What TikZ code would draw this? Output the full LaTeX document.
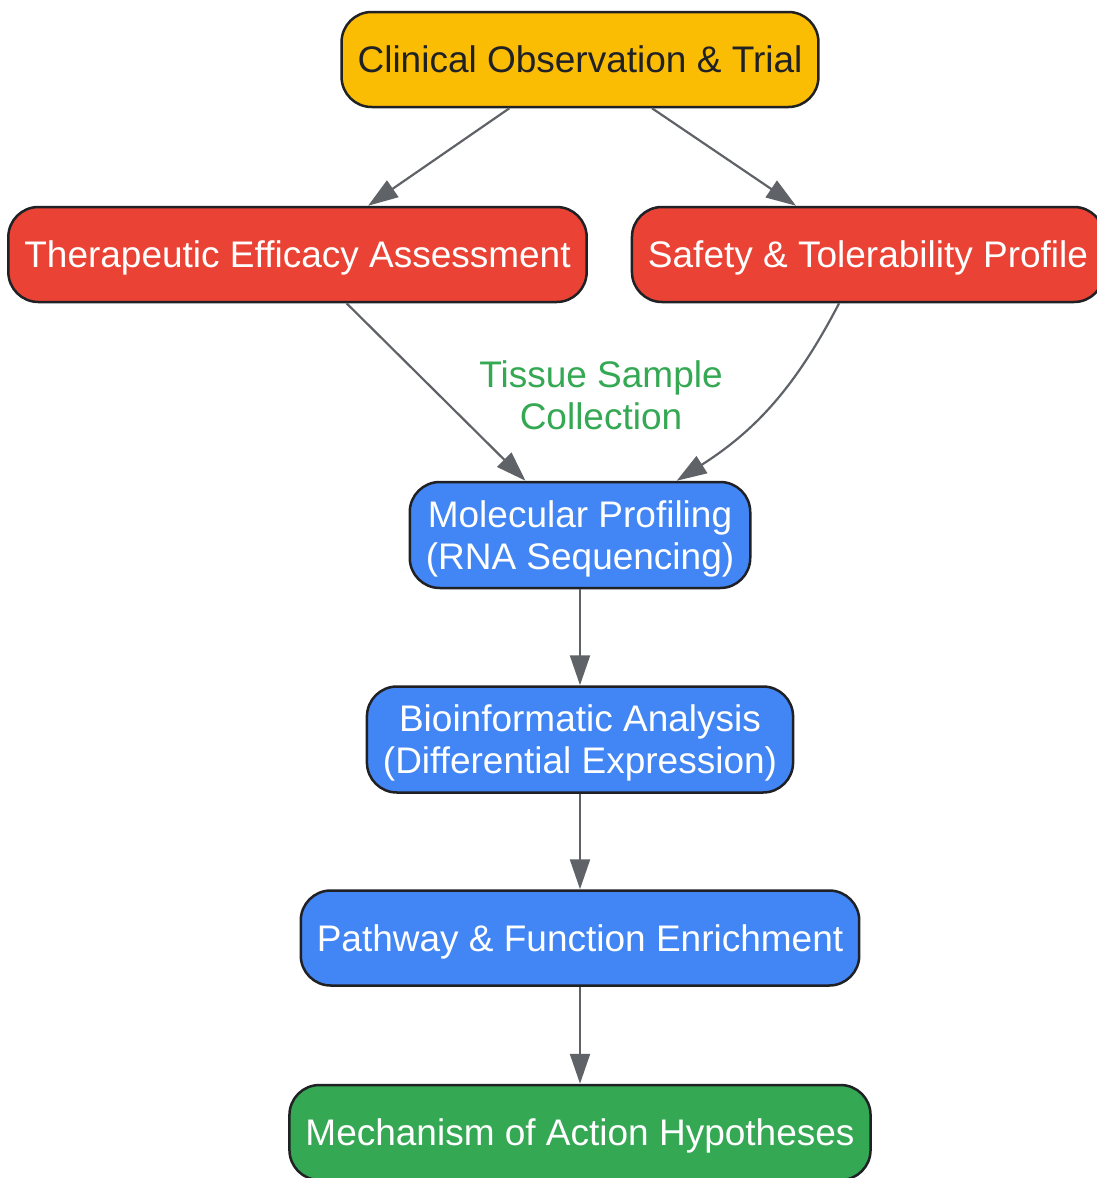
\documentclass[tikz,border=0pt]{standalone}
\usepackage{fontspec}
\setmainfont{Liberation Sans}
\usetikzlibrary{arrows.meta,positioning}
\definecolor{gyellow}{HTML}{FBBC04}
\definecolor{gred}{HTML}{EA4335}
\definecolor{gblue}{HTML}{4285F4}
\definecolor{ggreen}{HTML}{34A853}
\definecolor{gline}{HTML}{5F6368}
\definecolor{gdark}{HTML}{202124}

\begin{document}
\begin{tikzpicture}[x=1pt,y=1pt,node distance=200pt,on grid,auto,
    >={Triangle[length=30pt,width=20pt]},
    every edge/.style={draw=gline,line width=2.2pt,->},
    box/.style={draw=gdark,line width=2.5pt,rounded corners=30pt,
      inner xsep=16pt,inner ysep=8pt,minimum height=95pt,align=center,
      text=white,text depth=0pt,font=\fontsize{37}{42}\selectfont},
    tall/.style={box,minimum height=106pt}]
  \useasboundingbox (0,0) rectangle (1096,-1178);

  \node[box,fill=gyellow,text=gdark] (trial) at (580,-59.5) {Clinical Observation \& Trial};
  \node[box,fill=gred] (eff) [below left=195pt and 282.5pt of trial] {Therapeutic Efficacy Assessment};
  \node[box,fill=gred] (safe) [below right=195pt and 288pt of trial] {Safety \& Tolerability Profile};
  \node[tall,fill=gblue] (mol) [below=475.5pt of trial] {Molecular Profiling\\(RNA Sequencing)};
  \node[tall,fill=gblue] (bio) [below=204.5pt of mol] {Bioinformatic Analysis\\(Differential Expression)};
  \node[box,fill=gblue] (enr) [below=198.5pt of bio] {Pathway \& Function Enrichment};
  \node[box,fill=ggreen] (moa) [below=194.5pt of enr] {Mechanism of Action Hypotheses};

  \node[text=ggreen,align=center,font=\fontsize{37}{42}\selectfont] (tissue)
    [above right=140pt and 21pt of mol] {Tissue Sample\\Collection};

  \path
    (trial) edge (eff)
    (trial) edge (safe)
    (eff) edge (mol)
    (safe) edge [bend left=15] (mol)
    (mol) edge (bio)
    (bio) edge (enr)
    (enr) edge (moa);
\end{tikzpicture}
\end{document}
